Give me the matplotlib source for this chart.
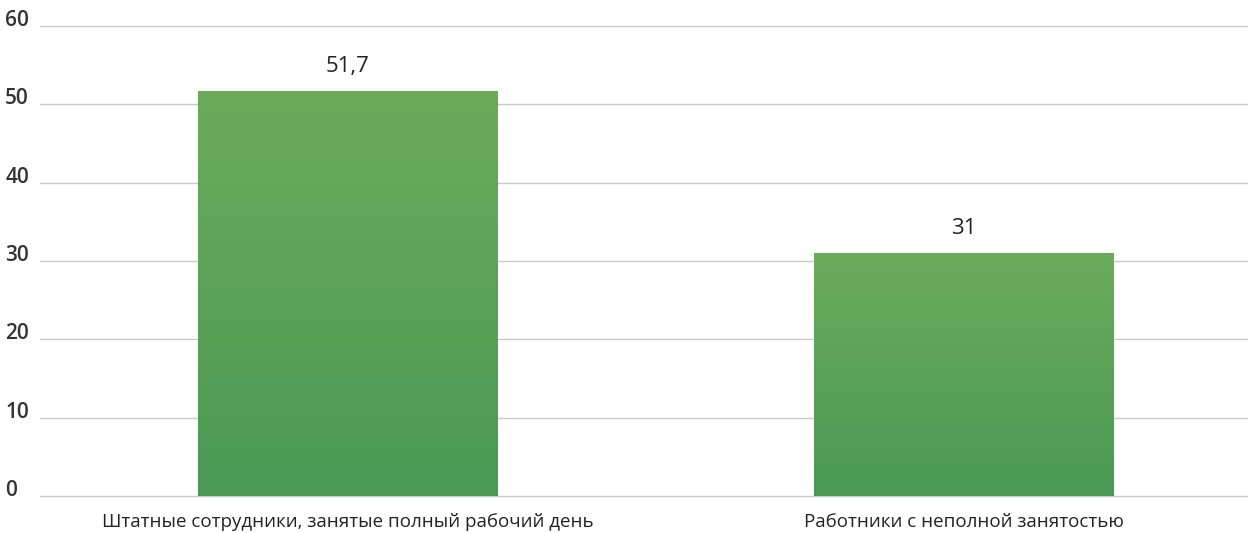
import matplotlib.pyplot as plt
import numpy as np
from matplotlib.colors import LinearSegmentedColormap
import matplotlib.transforms as mtransforms

categories = ['Штатные сотрудники, занятые полный рабочий день',
              'Работники с неполной занятостью']
values = [51.7, 31]
value_labels = ['51,7', '31']
yticks = [0, 10, 20, 30, 40, 50, 60]

plt.rcParams['font.family'] = ['Open Sans', 'DejaVu Sans']

fig = plt.figure(figsize=(12.48, 5.33), dpi=100)
ax = fig.add_axes([40/1248, 37/533, 1 - 40/1248, 470/533])

x = np.arange(len(categories))
bars = ax.bar(x, values, width=0.487, color='none', zorder=3)

# vertical gradient per bar (light top, darker bottom)
cmap = LinearSegmentedColormap.from_list('g', ['#4b9955', '#6aac5a'])
grad = np.linspace(0, 1, 256).reshape(-1, 1)
for b in bars:
    x0 = b.get_x()
    ax.imshow(grad, extent=[x0, x0 + b.get_width(), 0, b.get_height()],
              origin='lower', aspect='auto', cmap=cmap, zorder=3)

for xi, v, lab in zip(x, values, value_labels):
    ax.annotate(lab, (xi, v), xytext=(0, 10), textcoords='offset points',
                ha='center', va='bottom', fontsize=16, color='#222222')

ax.set_xlim(-0.5, 1.461)
ax.set_ylim(0, 60)
ax.set_yticks(yticks)
ax.set_yticklabels([str(t) for t in yticks], fontsize=15, color='#333333',
                   fontweight='semibold')
shift = mtransforms.ScaledTranslation(0, 2/100, fig.dpi_scale_trans)
for t in ax.get_yticklabels():
    t.set_horizontalalignment('left')
    t.set_verticalalignment('baseline')
    t.set_transform(t.get_transform() + shift)
ax.tick_params(axis='y', length=0, pad=25)
ax.set_xticks(x)
ax.set_xticklabels(categories, fontsize=13.5, color='#222222')
ax.tick_params(axis='x', length=0, pad=12)

ax.grid(axis='y', color='#c8c8c8', linewidth=1, zorder=0)
for gl in ax.get_ygridlines():
    gl.set_clip_on(False)
for s in ax.spines.values():
    s.set_visible(False)

fig.savefig('out.png', dpi=100)
